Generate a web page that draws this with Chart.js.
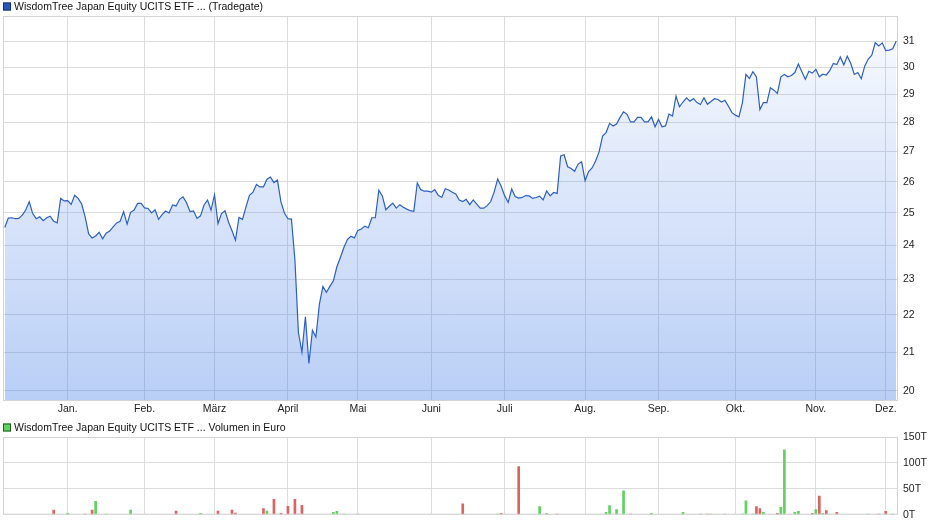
<!DOCTYPE html>
<html>
<head>
<meta charset="utf-8">
<title>WisdomTree Japan Equity UCITS ETF (Tradegate)</title>
<script src="https://cdn.jsdelivr.net/npm/chart.js@4.4.1/dist/chart.umd.min.js"></script>
<style>
  html, body { margin: 0; padding: 0; background: #fff; }
  #wrap { position: relative; width: 940px; height: 526px; overflow: hidden; }
  canvas { position: absolute; left: 0; }
</style>
</head>
<body>
<div id="wrap">
  <canvas id="priceChart" width="940" height="420" style="top:0"></canvas>
  <canvas id="volChart" width="940" height="106" style="top:420px"></canvas>
</div>
<script>
// month labels and the trading-day index where each month starts
const monthLabels = ['Jan.', 'Feb.', 'März', 'April', 'Mai', 'Juni', 'Juli', 'Aug.', 'Sep.', 'Okt.', 'Nov.', 'Dez.'];
const monthStart = [18, 40, 60, 81, 101, 122, 143, 166, 187, 209, 232, 252];

const priceTicks = [20, 21, 22, 23, 24, 25, 26, 27, 28, 29, 30, 31];
const volTicks = [0, 50, 100, 150];

// daily closing prices in EUR, one per trading day (Dec 2024 - Dec 2025)
const prices = [
  24.55, 24.84, 24.85, 24.82, 24.83, 24.93, 25.09, 25.35, 24.98, 24.82,
  24.88, 24.76, 24.85, 24.90, 24.74, 24.69, 25.46, 25.38, 25.39, 25.27,
  25.56, 25.46, 25.28, 24.88, 24.35, 24.23, 24.29, 24.40, 24.20, 24.37,
  24.44, 24.57, 24.69, 24.74, 25.04, 24.65, 25.02, 25.09, 25.30, 25.30,
  25.16, 25.14, 25.00, 25.10, 24.80, 24.95, 25.06, 25.00, 25.25, 25.22,
  25.43, 25.51, 25.32, 25.04, 25.06, 24.83, 24.91, 25.25, 25.41, 25.09,
  25.57, 24.67, 24.98, 25.07, 24.72, 24.45, 24.16, 24.86, 24.80, 25.19,
  25.56, 25.66, 25.91, 25.83, 25.83, 26.08, 26.15, 25.97, 26.05, 25.35,
  25.00, 24.82, 24.81, 23.57, 21.52, 21.00, 21.95, 20.70, 21.58, 21.40,
  22.30, 22.80, 22.63, 22.80, 22.96, 23.37, 23.64, 23.94, 24.18, 24.28,
  24.23, 24.46, 24.50, 24.59, 24.54, 24.85, 24.85, 25.72, 25.54, 25.10,
  25.21, 25.31, 25.15, 25.26, 25.18, 25.12, 25.07, 25.05, 25.96, 25.74,
  25.69, 25.69, 25.66, 25.74, 25.56, 25.49, 25.77, 25.73, 25.66, 25.60,
  25.41, 25.36, 25.43, 25.26, 25.41, 25.28, 25.15, 25.15, 25.23, 25.36,
  25.67, 26.09, 25.85, 25.54, 25.33, 25.76, 25.52, 25.47, 25.49, 25.55,
  25.54, 25.46, 25.49, 25.53, 25.41, 25.70, 25.54, 25.65, 25.62, 26.85,
  26.89, 26.49, 26.43, 26.34, 26.58, 26.66, 26.03, 26.33, 26.45, 26.68,
  26.99, 27.53, 27.65, 27.97, 27.88, 27.95, 28.18, 28.38, 28.29, 28.02,
  28.02, 28.18, 28.18, 28.02, 28.02, 28.20, 27.85, 28.11, 27.85, 27.88,
  28.30, 28.23, 28.94, 28.56, 28.73, 28.88, 28.76, 28.85, 28.71, 28.64,
  28.88, 28.65, 28.75, 28.85, 28.82, 28.73, 28.79, 28.58, 28.35, 28.26,
  28.20, 28.71, 29.74, 29.59, 29.84, 29.65, 28.46, 28.71, 28.71, 29.25,
  29.16, 29.04, 29.65, 29.74, 29.65, 29.70, 29.81, 30.13, 29.84, 29.56,
  29.86, 29.79, 29.93, 29.65, 29.75, 29.72, 29.89, 30.15, 30.11, 30.40,
  30.10, 30.43, 30.15, 29.74, 29.81, 29.58, 30.06, 30.32, 30.47, 30.95,
  30.82, 30.94, 30.64, 30.66, 30.71, 31.01
];

// traded volume in thousand EUR ("T"), only the days with turnover
const volDay = [14, 18, 23, 25, 26, 29, 36, 49, 56, 61, 65, 66, 74, 75, 77, 79, 81, 83, 84, 85,
  94, 95, 97, 101, 131, 141, 142, 147, 153, 155, 158, 172, 173, 175, 177, 179, 185, 194,
  199, 201, 202, 206, 211, 212, 214, 215, 216, 217, 221, 222, 223, 226, 227, 231, 232,
  233, 234, 235, 238, 247, 250, 252, 254];
const volume = [8.8, 2.5, 1, 8.8, 25.7, 1.3, 8.8, 7, 2.5, 7, 8.8, 3, 12, 7, 29.5, 2.5, 16, 29.5, 1.3, 18,
  4.4, 6.3, 0.8, 0.8, 21, 0.8, 2.5, 93, 15.7, 2.5, 0.8, 4.4, 17.6, 10, 46, 0.8, 2.5, 4.4,
  0.8, 0.8, 0.8, 0.8, 0.8, 27, 0.8, 15.7, 12, 4.4, 2.5, 14, 125, 4.4, 6.3, 2.5, 10,
  36, 2.5, 8, 4.4, 0.8, 0.8, 6.3, 0.8];
const volDir = ['-', '+', '-', '-', '+', '+', '+', '-', '+', '-', '-', '-', '-', '+', '-', '-', '-', '-', '-', '-',
  '+', '+', '+', '+', '-', '+', '-', '-', '+', '+', '-', '+', '+', '+', '+', '-', '+', '+',
  '-', '-', '+', '+', '+', '+', '+', '-', '-', '+', '-', '+', '+', '+', '+', '-', '+',
  '-', '+', '-', '-', '+', '-', '-', '+'];

const tickFont = { family: '"Liberation Sans", Arial, sans-serif', size: 10.5 };
const gridColor = '#dcdcdc';

// draws the little coloured square + series title above a plot
const headline = {
  id: 'headline',
  afterDraw(chart, args, opts) {
    const c = chart.ctx;
    c.save();
    c.fillStyle = opts.fill;
    c.fillRect(3, opts.y - 4, 8, 8);
    c.strokeStyle = opts.stroke;
    c.lineWidth = 1;
    c.strokeRect(3.5, opts.y - 3.5, 7, 7);
    c.font = '10.5px "Liberation Sans", Arial, sans-serif';
    c.fillStyle = '#111';
    c.textBaseline = 'middle';
    c.fillText(opts.text, 14, opts.y + 0.5);
    c.restore();
  }
};

// thin grey frame round the plot area
const frame = {
  id: 'frame',
  afterDraw(chart) {
    const a = chart.chartArea;
    const c = chart.ctx;
    c.save();
    c.strokeStyle = '#d4d4d4';
    c.lineWidth = 1;
    c.strokeRect(a.left + 0.5, a.top + 0.5, a.right - a.left - 1, a.bottom - a.top - 1);
    c.restore();
  }
};

function monthAxis(showLabels, height) {
  return {
    type: 'linear',
    min: -0.5,
    max: 255.5,
    offset: false,
    afterBuildTicks: s => { s.ticks = monthStart.map(v => ({ value: v })); },
    afterFit: s => { s.height = height; },
    ticks: {
      display: showLabels,
      autoSkip: false,
      maxRotation: 0,
      padding: 2,
      color: '#222',
      font: tickFont,
      callback: (v, i) => monthLabels[i]
    },
    grid: { color: gridColor, drawTicks: false, offset: false },
    border: { display: false }
  };
}

const priceChart = new Chart(document.getElementById('priceChart'), {
  type: 'line',
  data: {
    datasets: [{
      label: 'WisdomTree Japan Equity UCITS ETF ... (Tradegate)',
      data: prices.map((v, i) => ({ x: i, y: v })),
      borderColor: '#2b5fc6',
      borderWidth: 1.2,
      pointRadius: 0,
      tension: 0,
      fill: 'start',
      backgroundColor: ctx => {
        const a = ctx.chart.chartArea;
        if (!a) return 'rgba(60,120,230,0.2)';
        const g = ctx.chart.ctx.createLinearGradient(0, a.top, 0, a.bottom);
        g.addColorStop(0, 'rgba(60,120,230,0.03)');
        g.addColorStop(1, 'rgba(60,120,230,0.36)');
        return g;
      }
    }]
  },
  options: {
    responsive: false,
    animation: false,
    layout: { padding: { top: 16, left: 3, right: 0, bottom: 0 } },
    plugins: {
      legend: { display: false },
      tooltip: { enabled: false },
      headline: { text: 'WisdomTree Japan Equity UCITS ETF ... (Tradegate)', fill: '#2457c0', stroke: '#1a3275', y: 6.5 }
    },
    scales: {
      x: monthAxis(true, 19),
      y: {
        type: 'logarithmic',
        position: 'right',
        min: 19.75,
        max: 32,
        afterBuildTicks: s => { s.ticks = priceTicks.map(v => ({ value: v })); },
        afterFit: s => { s.width = 42; },
        ticks: { padding: 5, color: '#222', font: tickFont, callback: (v, i) => String(priceTicks[i]) },
        grid: { color: gridColor, drawTicks: false },
        border: { display: false }
      }
    }
  },
  plugins: [headline, frame]
});

const volChart = new Chart(document.getElementById('volChart'), {
  type: 'bar',
  data: {
    datasets: [{
      label: 'WisdomTree Japan Equity UCITS ETF ... Volumen in Euro',
      data: volDay.map((d, k) => ({ x: d, y: volume[k] })),
      backgroundColor: volDir.map(d => d === '+' ? '#5fd35f' : '#de6262'),
      barThickness: 2,
      borderWidth: 0
    }]
  },
  options: {
    responsive: false,
    animation: false,
    layout: { padding: { top: 17, left: 3, right: 0, bottom: 0 } },
    plugins: {
      legend: { display: false },
      tooltip: { enabled: false },
      headline: { text: 'WisdomTree Japan Equity UCITS ETF ... Volumen in Euro', fill: '#5fd35f', stroke: '#1f5a1f', y: 7.5 }
    },
    scales: {
      x: monthAxis(false, 10),
      y: {
        min: 0,
        max: 150,
        afterBuildTicks: s => { s.ticks = volTicks.map(v => ({ value: v })); },
        afterFit: s => { s.width = 42; },
        position: 'right',
        ticks: { padding: 5, color: '#222', font: tickFont, callback: (v, i) => volTicks[i] + 'T' },
        grid: { color: gridColor, drawTicks: false },
        border: { display: false }
      }
    }
  },
  plugins: [headline, frame]
});
</script>
</body>
</html>
